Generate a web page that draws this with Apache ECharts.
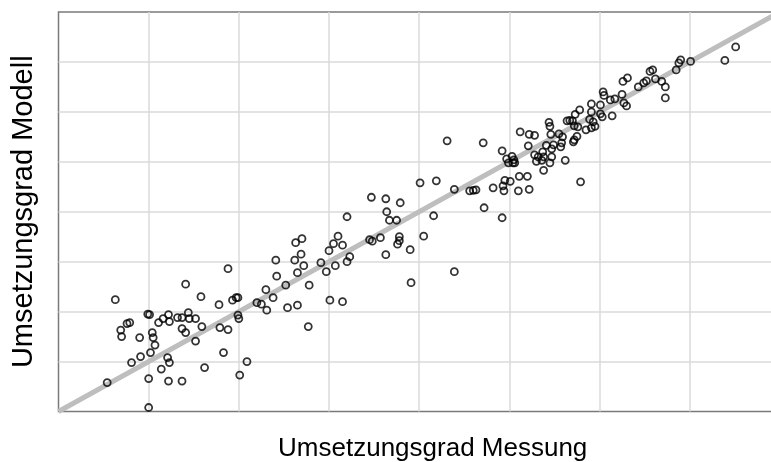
<!DOCTYPE html>
<html>
<head>
<meta charset="utf-8">
<script src="https://cdn.jsdelivr.net/npm/echarts@6/dist/echarts.min.js"></script>
<style>
  html, body { margin: 0; padding: 0; background: #fff; }
  #chart { width: 771px; height: 462px; }
</style>
</head>
<body>
<div id="chart"></div>
<script>
// Umsetzungsgrad in %, measured (x) vs. model (y)
const messung = [
  6.3, 14.1, 15.8, 17.8, 19.3, 19.7, 19.9, 9.9, 10.1, 12.2, 11.6, 11.1, 12.3, 13.2, 13.7, 14.4, 14.5, 15.2, 15.9,
  7.6, 7.9, 6.9, 7.0, 9.0, 10.4, 10.5, 10.7, 10.2, 9.1, 8.1, 13.7, 14.1, 15.2, 17.9, 18.8, 19.9, 20.0, 18.3, 20.9,
  20.1, 12.1, 12.3, 11.4, 16.2, 5.4, 10.0, 12.2, 13.7, 10.0,
  32.0, 36.4, 36.7, 37.5, 34.7, 26.3, 27.0, 26.9, 26.2, 27.2, 26.5, 24.1, 24.2, 18.8, 23.0, 25.2, 23.8, 27.8,
  22.0, 22.5, 23.1, 25.4, 26.5, 27.7, 31.0, 30.5, 31.5, 30.0, 29.1, 29.7, 30.7, 32.0, 32.3, 30.1, 31.5,
  34.5, 34.8, 35.7, 37.8, 37.8, 37.6, 36.3, 36.3, 37.9, 40.5, 39.0,
  43.1, 47.1, 51.2, 52.2, 52.8, 54.4, 54.5, 54.6, 52.1, 49.2, 49.7, 50.3, 50.5, 49.9, 50.4, 50.6, 53.8,
  51.1, 52.0, 51.0, 52.2, 49.5, 50.1, 49.3, 49.4, 48.2, 46.3, 46.0, 45.6, 43.9, 41.9, 40.1, 47.2, 49.2, 41.6,
  43.9, 39.1,
  75.1, 73.9, 70.1, 69.0, 68.8, 68.5, 65.6, 65.9, 66.2, 65.2, 64.9, 64.3, 66.9, 67.3, 67.3, 63.1, 62.6, 62.5,
  62.7, 63.0, 61.7, 61.2, 60.4, 60.5, 60.1, 59.1, 57.8, 57.3, 59.1, 60.1, 60.3, 61.4, 58.9, 59.3, 59.5, 59.1,
  58.5, 56.4, 56.7, 57.0, 57.2, 57.6, 55.5, 55.9, 55.8, 55.7, 57.5, 57.2, 57.1, 54.1, 54.7, 54.9, 52.8, 53.2,
  53.0, 53.8, 54.7, 56.2, 57.9, 53.7, 53.6, 54.5
];
const modell = [
  22.4, 25.5, 23.0, 21.4, 22.3, 22.8, 22.8, 19.5, 19.4, 19.4, 18.6, 17.8, 18.0, 18.8, 18.8, 19.8, 18.6, 18.6, 17.0,
  17.6, 17.8, 16.3, 15.0, 14.8, 15.8, 14.8, 13.3, 11.8, 11.0, 9.8, 16.6, 15.8, 14.1, 16.8, 16.4, 19.3, 18.6, 11.8, 10.0,
  7.3, 10.8, 9.8, 8.5, 8.8, 5.8, 6.6, 6.1, 6.1, 0.8,
  39.0, 40.0, 38.3, 38.3, 42.9, 33.8, 34.6, 31.5, 30.3, 29.2, 27.8, 30.3, 27.1, 28.6, 24.4, 25.3, 22.8, 25.3,
  21.8, 21.5, 20.3, 20.8, 21.3, 17.0, 35.1, 33.6, 33.3, 32.2, 29.8, 28.0, 29.2, 30.0, 31.0, 22.3, 22.0,
  34.4, 34.1, 34.8, 35.0, 34.2, 33.5, 31.4, 42.6, 41.8, 35.1, 32.4,
  54.2, 53.8, 56.0, 55.5, 55.3, 57.9, 57.1, 55.5, 53.2, 52.2, 50.6, 51.1, 50.4, 49.8, 49.8, 49.8, 48.3,
  47.1, 47.1, 44.2, 44.5, 46.3, 46.1, 45.2, 44.2, 44.8, 44.4, 44.3, 44.2, 44.5, 46.2, 45.8, 40.8, 38.8, 39.2,
  28.0, 25.8,
  73.0, 70.3, 70.1, 70.4, 69.8, 68.4, 68.1, 68.4, 66.6, 66.2, 65.8, 65.0, 66.1, 65.0, 62.8, 66.8, 66.1, 63.5,
  61.8, 61.2, 62.6, 62.4, 64.0, 63.3, 61.4, 61.6, 60.4, 59.5, 60.0, 59.6, 59.0, 59.2, 58.5, 58.0, 57.1, 56.8,
  56.4, 58.2, 58.3, 58.2, 57.2, 57.0, 55.6, 55.0, 53.8, 53.0, 55.1, 54.4, 54.0, 53.3, 52.6, 53.4, 51.4, 51.0,
  50.1, 51.0, 51.0, 50.3, 46.0, 52.0, 50.3, 49.8
];
// reference line y = x
const diagonal = [0, 83];

const points = messung.map((x, i) => [x, modell[i]]);

const chart = echarts.init(document.getElementById('chart'), null, { renderer: 'canvas' });
const font = 'Liberation Sans, Arial, Helvetica, sans-serif';

// light grid, but leave the outer frame lines to the grid border
const gridLines = {
  show: true, showMinLine: false, showMaxLine: false,
  lineStyle: { color: '#dadada', width: 1.5 }
};

chart.setOption({
  animation: false,
  backgroundColor: '#ffffff',
  grid: {
    left: 58.5, top: 12, width: 748.4, height: 399.5,
    outerBoundsMode: 'none', containLabel: false,
    show: true, borderColor: '#7a7a7a', borderWidth: 1.5, backgroundColor: 'transparent'
  },
  xAxis: {
    type: 'value', min: 0, max: 83, interval: 10,
    name: 'Umsetzungsgrad Messung', nameLocation: 'middle', nameGap: 24,
    nameTextStyle: { fontFamily: font, fontSize: 26, color: '#000' },
    axisLine: { show: false }, axisTick: { show: false }, axisLabel: { show: false },
    splitLine: gridLines
  },
  yAxis: {
    type: 'value', min: 0, max: 80, interval: 10,
    name: 'Umsetzungsgrad Modell', nameLocation: 'middle', nameGap: 20,
    nameTextStyle: { fontFamily: font, fontSize: 29, color: '#000' },
    axisLine: { show: false }, axisTick: { show: false }, axisLabel: { show: false },
    splitLine: gridLines
  },
  series: [
    {
      type: 'line',
      data: diagonal.map(v => [v, v]),
      symbol: 'none', silent: true, clip: true,
      lineStyle: { color: '#bebebe', width: 5 },
      z: 1
    },
    {
      type: 'scatter',
      data: points,
      symbol: 'circle', symbolSize: 7,
      itemStyle: { color: 'rgba(0,0,0,0)', borderColor: '#000', borderWidth: 1.8 },
      z: 2
    }
  ]
});
</script>
</body>
</html>
